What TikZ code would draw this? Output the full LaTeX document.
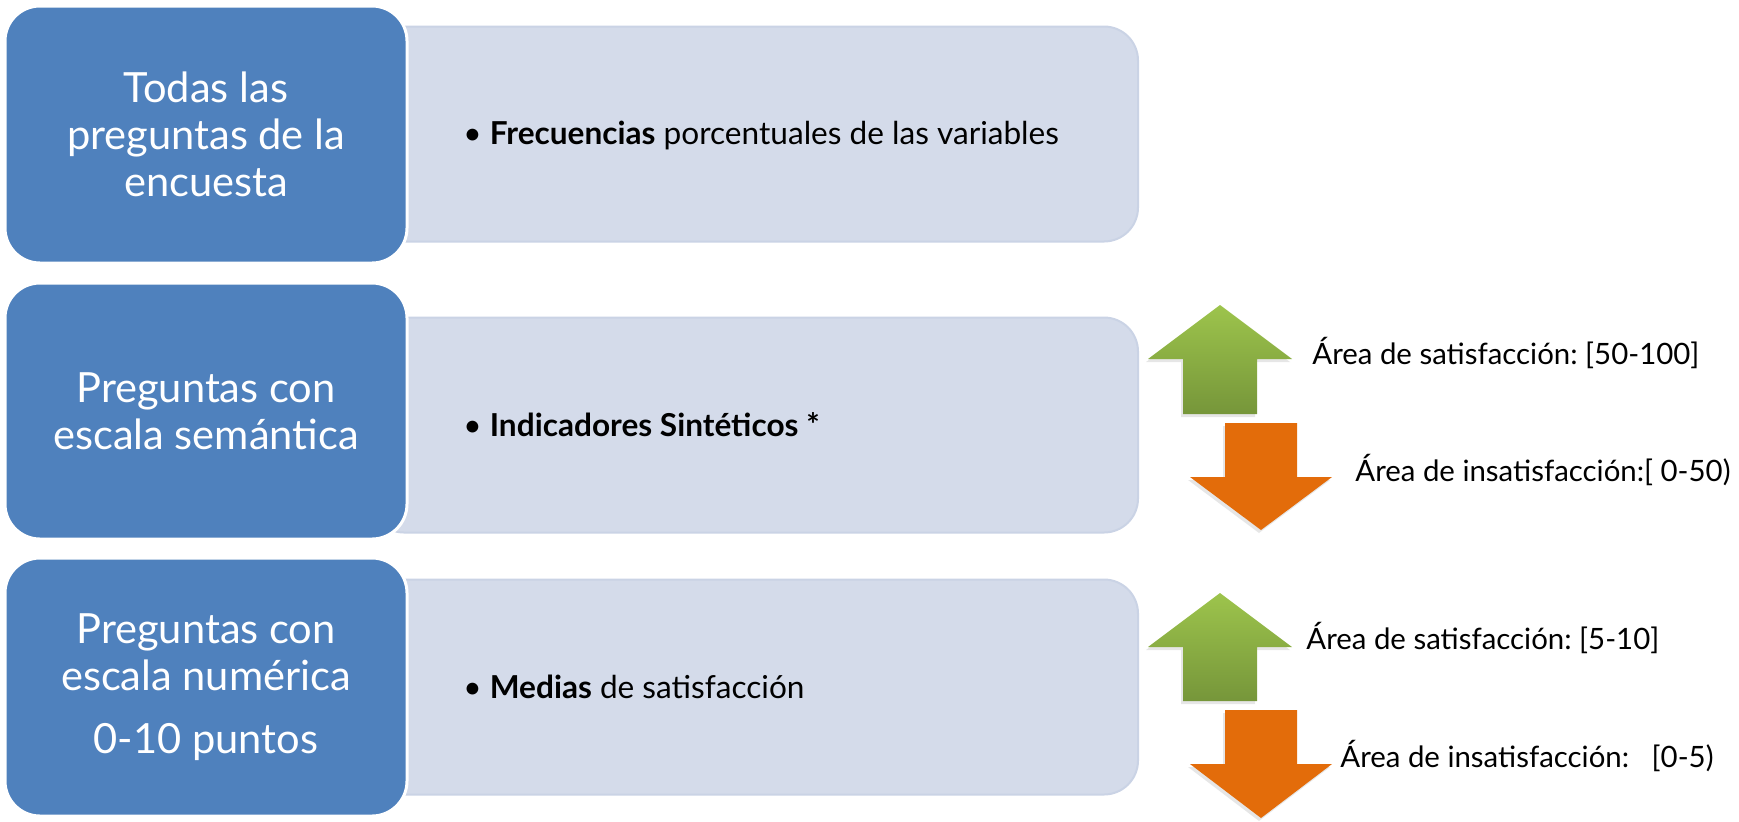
\documentclass[tikz,border=0pt]{standalone}
\usepackage{fontspec}
\setmainfont{Lato}
\usetikzlibrary{shadows}
\definecolor{boxblue}{RGB}{79,129,189}
\definecolor{lightbox}{RGB}{212,219,234}
\definecolor{lightedge}{RGB}{202,211,229}
\definecolor{greentop}{RGB}{157,196,76}
\definecolor{greenbot}{RGB}{118,150,58}
\definecolor{orangefill}{RGB}{227,108,10}
\frenchspacing
\begin{document}
\begin{tikzpicture}[x=0.5pt,y=-0.5pt,
  bluebox/.style={draw=white, line width=1.5pt, fill=boxblue, rounded corners=17.5pt,
    text=white, align=center, font=\fontsize{20.8}{23.5}\selectfont,
    minimum width=201pt, inner sep=0pt},
  lightbg/.style={draw=lightedge, line width=1pt, fill=lightbox, rounded corners=17pt,
    minimum width=384pt, minimum height=107.5pt, inner sep=0pt},
  itemtext/.style={anchor=west, inner sep=0pt, font=\fontsize{15.8}{18}\selectfont},
  sidetext/.style={anchor=west, inner sep=0pt, font=\fontsize{14.7}{17}\selectfont},
  uparrow/.style={top color=greentop, bottom color=greenbot, draw=none,
    drop shadow={shadow xshift=-1pt, shadow yshift=-1.5pt, opacity=0.2}},
  downarrow/.style={fill=orangefill, draw=none,
    drop shadow={shadow xshift=-1pt, shadow yshift=-1.5pt, opacity=0.2}}
]
\useasboundingbox (0,0) rectangle (1739,821);

% light boxes
\node[lightbg] (l1) at (754,134) {};
\node[lightbg] (l2) at (754,425) {};
\node[lightbg] (l3) at (754,687) {};

% blue boxes
\node[bluebox, minimum height=128.5pt] (b1) at (206,134.5) {Todas las\\preguntas de la\\encuesta};
\node[bluebox, minimum height=128pt] (b2) at (206,411) {Preguntas con\\escala semántica};
\node[bluebox, minimum height=129pt] (b3) at (206,687) {Preguntas con\\escala numérica\\[8pt]0-10 puntos};

% bullet texts
\node[itemtext] (t1) at (463,135) {• \textbf{Frecuencias} porcentuales de las variables};
\node[itemtext] (t2) at (463,425) {• \textbf{Indicadores Sintéticos *}};
\node[itemtext] (t3) at (463,687) {• \textbf{Medias} de satisfacción};

% arrows row 2
\path[uparrow] (1220,305) -- (1292,359) -- (1257,359) -- (1257,414) -- (1183,414)
  -- (1183,359) -- (1148,359) -- cycle;
\path[downarrow] (1225,423) -- (1297,423) -- (1297,477) -- (1332,477) -- (1261,530)
  -- (1190,477) -- (1225,477) -- cycle;
% arrows row 3
\path[uparrow] (1220,593) -- (1292,647) -- (1257,647) -- (1257,701) -- (1183,701)
  -- (1183,647) -- (1148,647) -- cycle;
\path[downarrow] (1225,710) -- (1297,710) -- (1297,764) -- (1332,764) -- (1261,818)
  -- (1190,764) -- (1225,764) -- cycle;

% side labels
\node[sidetext] (s1) at (1312,353) {Área de satisfacción: [50-100]};
\node[sidetext] (s2) at (1355,470) {Área de insatisfacción:[ 0-50)};
\node[sidetext] (s3) at (1306,638) {Área de satisfacción: [5-10]};
\node[sidetext] (s4) at (1340,756) {Área de insatisfacción:\ \ \ [0-5)};
\end{tikzpicture}
\end{document}
